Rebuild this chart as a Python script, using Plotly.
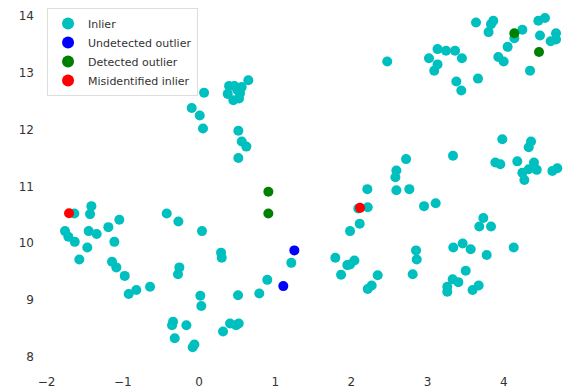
import plotly.graph_objects as go

inlier_x = [
    -1.636, -1.413, -1.43, -1.046, -1.19, -1.448, -1.343, -1.759, -1.715, -1.631,
    -1.111, -1.466, -1.571, -1.142, -1.085, -0.975, -0.823, -0.923, -0.643,
    -0.424, -0.271, 0.039, -0.258, -0.276, 0.017, 0.030,
    0.289, 0.298, -0.341, -0.354, -0.166, -0.319, -0.061, -0.083, 0.315, 0.407,
    0.486, 0.521, 0.512, 0.791, 0.896, 1.211,
    0.066, -0.096, 0.009, 0.052, 0.647, 0.394, 0.464, 0.56, 0.377, 0.538, 0.45,
    0.525, 0.503, 0.516, 0.56, 0.621, 0.516,
    2.717, 2.59, 2.577, 2.209, 2.59, 2.76, 3.333, 2.953, 3.106, 2.09, 2.214,
    2.109, 1.982, 1.789, 1.982, 2.039, 1.946, 1.864, 2.345, 2.266, 2.214,
    2.848, 2.857, 2.804,
    3.98, 4.357, 4.327, 3.889, 3.954, 4.177, 4.396, 4.327, 4.432, 4.243, 4.27,
    4.637, 4.702, 3.731, 3.678, 3.832, 3.337, 3.46, 3.565, 3.775, 4.13, 3.5,
    3.329, 3.403, 3.258, 3.258, 3.59, 3.67,
    2.47, 3.018, 3.13, 3.241, 3.36, 3.45, 3.13, 3.087, 3.377, 3.442, 3.661,
    3.635, 3.832, 3.862, 3.80, 3.928, 3.998, 4.05, 4.138, 4.243, 4.453, 4.54,
    4.475, 4.344, 4.685, 4.685, 4.615,
]
inlier_y = [
    10.52, 10.65, 10.51, 10.41, 10.28, 10.21, 10.16, 10.21, 10.11, 10.02,
    10.02, 9.92, 9.71, 9.67, 9.57, 9.42, 9.17, 9.10, 9.23,
    10.52, 10.38, 10.21, 9.57, 9.45, 9.07, 8.89,
    9.83, 9.74, 8.61, 8.55, 8.55, 8.32, 8.21, 8.16, 8.44, 8.58,
    8.55, 8.58, 9.08, 9.11, 9.35, 9.65,
    12.65, 12.38, 12.25, 12.02, 12.87, 12.77, 12.77, 12.75, 12.63, 12.64, 12.52,
    12.55, 12.70, 11.98, 11.79, 11.70, 11.50,
    11.48, 11.28, 11.16, 10.95, 10.93, 10.95, 11.54, 10.65, 10.70, 10.61, 10.63,
    10.34, 10.21, 9.74, 9.62, 9.69, 9.61, 9.44, 9.43, 9.25, 9.19,
    9.87, 9.71, 9.45,
    11.83, 11.79, 11.69, 11.42, 11.39, 11.44, 11.42, 11.30, 11.29, 11.24, 11.11,
    11.27, 11.32, 10.44, 10.29, 10.29, 9.92, 9.99, 9.89, 9.79, 9.92, 9.51,
    9.36, 9.31, 9.23, 9.14, 9.17, 9.25,
    13.20, 13.26, 13.42, 13.39, 13.39, 13.26, 13.15, 13.04, 12.85, 12.69, 12.90,
    13.89, 13.86, 13.92, 13.72, 13.28, 13.20, 13.46, 13.61, 13.76, 13.92, 13.97,
    13.66, 13.04, 13.70, 13.59, 13.56,
]

undetected_x = [1.106, 1.251]
undetected_y = [9.24, 9.87]

detected_x = [0.91, 0.91, 4.138, 4.462]
detected_y = [10.905, 10.52, 13.70, 13.37]

misidentified_x = [-1.706, 2.113]
misidentified_y = [10.524, 10.62]

series = [
    ("Inlier", inlier_x, inlier_y, "#00BFBF"),
    ("Undetected outlier", undetected_x, undetected_y, "#0000FF"),
    ("Detected outlier", detected_x, detected_y, "#008000"),
    ("Misidentified inlier", misidentified_x, misidentified_y, "#FF0000"),
]

fig = go.Figure()
for name, xs, ys, col in series:
    fig.add_trace(go.Scatter(
        x=xs, y=ys, mode="markers", name=name,
        marker=dict(size=10, color=col, line=dict(width=0)),
    ))

axis_common = dict(
    showgrid=False, zeroline=False, showline=False, ticks="",
    automargin=False, ticklabeloverflow="allow",
    tickfont=dict(family="DejaVu Sans", size=12, color="#333333"),
)
fig.update_layout(
    width=582, height=383,
    margin=dict(l=32, r=8, t=0, b=27, autoexpand=False),
    paper_bgcolor="white", plot_bgcolor="white",
    xaxis=dict(range=[-2.087, 5.026], tickmode="array",
               tickvals=[-2, -1, 0, 1, 2, 3, 4, 5], ticklabelstandoff=9,
               **axis_common),
    yaxis=dict(range=[7.866, 14.145], tickmode="array",
               tickvals=[8, 9, 10, 11, 12, 13, 14], ticklabelstandoff=5,
               **axis_common),
    legend=dict(x=0.013, y=1.0, xanchor="left", yanchor="top",
                bgcolor="rgba(255,255,255,0.8)", bordercolor="#dddddd",
                borderwidth=1,
                font=dict(family="DejaVu Sans", size=11, color="#333333"),
                tracegroupgap=0, itemsizing="constant"),
    showlegend=True,
)
fig.write_html("out.html")
